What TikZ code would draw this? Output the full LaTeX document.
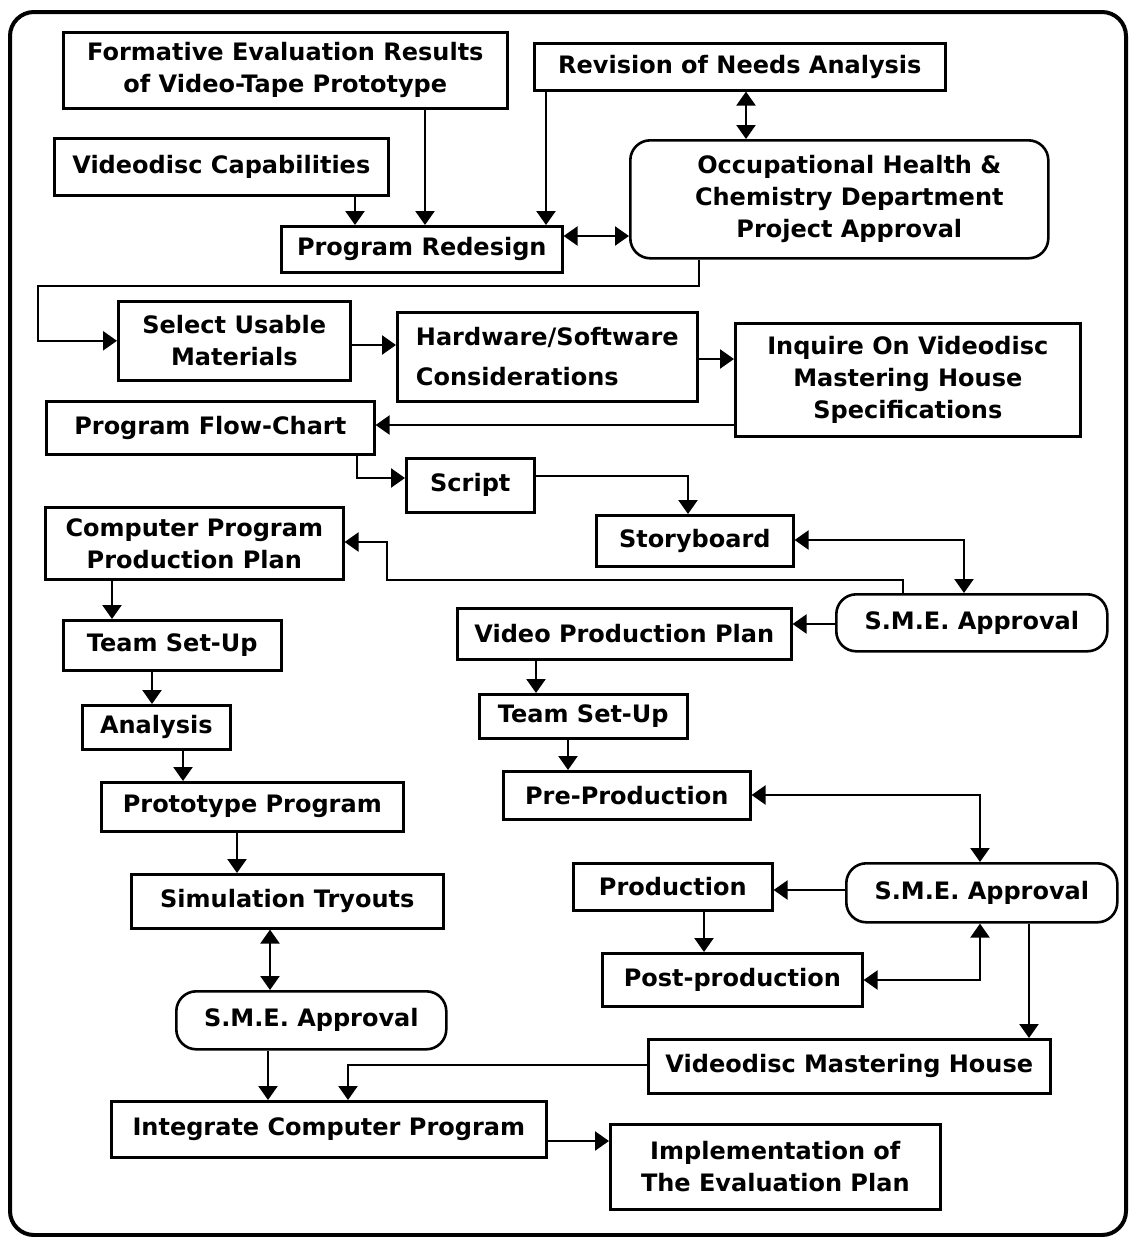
\documentclass[tikz,border=0pt]{standalone}
\usepackage{fontspec}
\setmainfont{DejaVu Sans}
\usetikzlibrary{arrows.meta,calc}
\begin{document}
\begin{tikzpicture}[x=1pt,y=-1pt,
  box/.style={draw, line width=2.6pt, inner sep=0pt, align=center,
    font=\bfseries\fontsize{24}{32}\selectfont, anchor=north west},
  rbox/.style={box, rounded corners=20pt},
  link/.style={line width=2.4pt},
  tip/.tip={Triangle[length=14pt,width=19pt]},
  arr/.style={link, -tip},
  darr/.style={link, tip-tip},
]
\useasboundingbox (0,0) rectangle (1130,1237);
% outer frame
\draw[line width=4pt, rounded corners=24pt] (10,12) rectangle (1126,1235);

% planning stage
\node[box, minimum width=444pt, minimum height=76pt] (form) at (62,31) {Formative Evaluation Results\\of Video-Tape Prototype};
\node[box, minimum width=411pt, minimum height=47pt] (rev) at (533,42) {Revision of Needs Analysis};
\node[box, minimum width=334pt, minimum height=57pt] (vcap) at (53,137) {Videodisc Capabilities};
\node[box, minimum width=281pt, minimum height=46pt] (pred) at (280,225) {Program Redesign};
\node[rbox, minimum width=418pt, minimum height=118pt] (occ) at (629,139) {\hspace*{20pt}Occupational Health \&\\\hspace*{20pt}Chemistry Department\\\hspace*{20pt}Project Approval};
\node[box, minimum width=232pt, minimum height=79pt] (sel) at (117,300) {Select Usable\\Materials};
\node[box, minimum width=300pt, minimum height=89pt, align=left] (hw) at (396,311) {Hardware/Software\\[8pt]Considerations};
\node[box, minimum width=345pt, minimum height=113pt] (inq) at (734,322) {Inquire On Videodisc\\Mastering House\\Specifications\hspace*{0pt}};
\node[box, minimum width=328pt, minimum height=53pt] (flow) at (45,400) {Program Flow-Chart};
\node[box, minimum width=128pt, minimum height=54pt] (script) at (405,457) {Script};
\node[box, minimum width=197pt, minimum height=51pt] (story) at (595,514) {Storyboard};
\node[box, minimum width=298pt, minimum height=72pt] (cppp) at (44,506) {Computer Program\\Production Plan};
\node[rbox, minimum width=271pt, minimum height=57pt] (sme1) at (835,593) {S.M.E. Approval};

% video branch
\node[box, minimum width=334pt, minimum height=51pt] (vpp) at (456,607) {Video Production Plan};
\node[box, minimum width=208pt, minimum height=44pt] (tsuR) at (478,693) {Team Set-Up};
\node[box, minimum width=247pt, minimum height=48pt] (pre) at (502,770) {Pre-Production};
\node[box, minimum width=199pt, minimum height=47pt] (prod) at (572,862) {Production};
\node[rbox, minimum width=271pt, minimum height=59pt] (sme2) at (845,862) {S.M.E. Approval};
\node[box, minimum width=260pt, minimum height=53pt] (post) at (601,952) {Post-production};
\node[box, minimum width=402pt, minimum height=54pt] (vmh) at (647,1038) {Videodisc Mastering House};

% computer branch
\node[box, minimum width=218pt, minimum height=50pt] (tsuL) at (62,619) {Team Set-Up};
\node[box, minimum width=148pt, minimum height=44pt] (ana) at (81,704) {Analysis};
\node[box, minimum width=302pt, minimum height=49pt] (proto) at (100,781) {Prototype Program};
\node[box, minimum width=312pt, minimum height=54pt] (sim) at (130,873) {Simulation Tryouts};
\node[rbox, minimum width=270pt, minimum height=58pt] (sme3) at (175,990) {S.M.E. Approval};
\node[box, minimum width=435pt, minimum height=56pt] (integ) at (110,1100) {Integrate Computer Program};
\node[box, minimum width=330pt, minimum height=85pt] (impl) at (609,1123) {Implementation of\\The Evaluation Plan};

% connectors
\draw[arr] (355,0 |- vcap.south) -- (355,0 |- pred.north);
\draw[arr] (425,0 |- form.south) -- (425,0 |- pred.north);
\draw[arr] (546,0 |- rev.south) -- (546,0 |- pred.north);
\draw[darr] (746,0 |- rev.south) -- (746,0 |- occ.north);
\draw[darr] (pred.east |- 0,236) -- (occ.west |- 0,236);
\draw[arr] (699,0 |- occ.south) |- (38,286) |- (sel.west);
\draw[arr] (sel.east |- 0,345) -- (hw.west |- 0,345);
\draw[arr] (hw.east |- 0,359) -- (inq.west |- 0,359);
\draw[arr] (inq.west |- 0,425) -- (flow.east |- 0,425);
\draw[arr] (357,0 |- flow.south) |- (script.west |- 0,478);
\draw[arr] (script.east |- 0,476) -| (688,0 |- story.north);
\draw[darr] (story.east |- 0,540) -| (964,0 |- sme1.north);
\draw[arr] (903,0 |- sme1.north) |- (387,580) |- (cppp.east |- 0,542);
\draw[arr] (sme1.west |- 0,624) -- (vpp.east |- 0,624);
\draw[arr] (112,0 |- cppp.south) -- (112,0 |- tsuL.north);
\draw[arr] (536,0 |- vpp.south) -- (536,0 |- tsuR.north);
\draw[arr] (152,0 |- tsuL.south) -- (152,0 |- ana.north);
\draw[arr] (568,0 |- tsuR.south) -- (568,0 |- pre.north);
\draw[arr] (183,0 |- ana.south) -- (183,0 |- proto.north);
\draw[arr] (237,0 |- proto.south) -- (237,0 |- sim.north);
\draw[darr] (270,0 |- sim.south) -- (270,0 |- sme3.north);
\draw[darr] (pre.east |- 0,795) -| (980,0 |- sme2.north);
\draw[arr] (sme2.west |- 0,890) -- (prod.east |- 0,890);
\draw[arr] (704,0 |- prod.south) -- (704,0 |- post.north);
\draw[darr] (post.east |- 0,980) -| (980,0 |- sme2.south);
\draw[arr] (1029,0 |- sme2.south) -- (1029,0 |- vmh.north);
\draw[arr] (vmh.west |- 0,1065) -| (348,0 |- integ.north);
\draw[arr] (268,0 |- sme3.south) -- (268,0 |- integ.north);
\draw[arr] (integ.east |- 0,1141) -- (impl.west |- 0,1141);
\end{tikzpicture}
\end{document}
